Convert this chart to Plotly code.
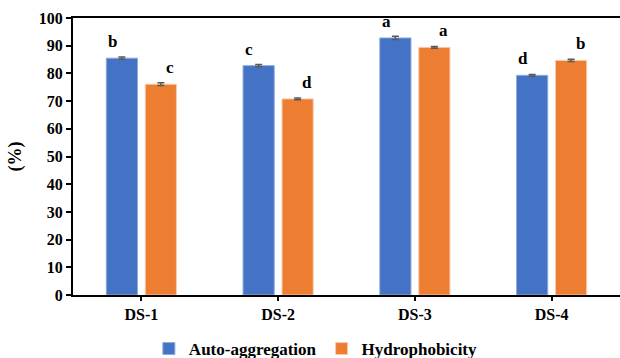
import plotly.graph_objects as go

categories = ["DS-1", "DS-2", "DS-3", "DS-4"]
auto_aggregation = [85.5, 82.8, 92.8, 79.3]
auto_err = [0.4, 0.4, 0.6, 0.3]
auto_letters = ["b", "c", "a", "d"]
hydrophobicity = [76.1, 70.8, 89.4, 84.7]
hydro_err = [0.5, 0.3, 0.3, 0.4]
hydro_letters = ["c", "d", "a", "b"]
y_ticks = [0, 10, 20, 30, 40, 50, 60, 70, 80, 90, 100]

BLUE = "#4472C4"
ORANGE = "#ED7D31"
FONT = "Liberation Serif"


def bold(s):
    return "<b>%s</b>" % s


fig = go.Figure()
fig.add_trace(go.Bar(
    name=bold("Auto-aggregation"), x=categories, y=auto_aggregation,
    marker=dict(color=BLUE, line=dict(color="#8FAADC", width=1)),
    error_y=dict(type="data", array=auto_err, color="#595959", thickness=1.5, width=3.5),
))
fig.add_trace(go.Bar(
    name=bold("Hydrophobicity"), x=categories, y=hydrophobicity,
    marker=dict(color=ORANGE, line=dict(color="#F8CBAD", width=1)),
    error_y=dict(type="data", array=hydro_err, color="#595959", thickness=1.5, width=3.5),
))

# significance letters above each bar
annotations = []
for i, cat in enumerate(categories):
    for offset, vals, letters in (
        (-0.21, auto_aggregation, auto_letters),
        (0.21, hydrophobicity, hydro_letters),
    ):
        annotations.append(dict(
            x=i + offset, y=vals[i], xref="x", yref="y",
            text=bold(letters[i]), showarrow=False, yanchor="bottom", yshift=5,
            font=dict(family=FONT, size=17, color="black"),
        ))

fig.update_layout(
    width=620, height=358,
    margin=dict(l=73, r=0, t=18, b=63, autoexpand=False),
    paper_bgcolor="white", plot_bgcolor="white",
    barmode="group", bargap=0.43, bargroupgap=0.2,
    font=dict(family=FONT, size=16, color="black"),
    showlegend=True,
    legend=dict(orientation="h", x=0.444, xanchor="center", y=-0.13, yanchor="top",
                font=dict(family=FONT, size=17, color="black"),
                traceorder="normal"),
    annotations=annotations,
    xaxis=dict(
        tickvals=categories, ticktext=[bold(c) for c in categories],
        showline=True, linecolor="black", linewidth=2, mirror=True,
        ticks="outside", ticklen=4, tickwidth=1.5, tickcolor="black",
        ticklabelstandoff=0, showgrid=False, automargin=False,
        tickfont=dict(family=FONT, size=16, color="black"),
    ),
    yaxis=dict(
        range=[0, 100], tickvals=y_ticks, ticktext=[bold(v) for v in y_ticks],
        showline=True, linecolor="black", linewidth=2, mirror=False,
        ticks="outside", ticklen=5, tickwidth=1.5, tickcolor="black",
        showgrid=False, zeroline=False, automargin=False,
        tickfont=dict(family=FONT, size=16, color="black"),
        title=dict(text=bold("(%)"), standoff=12,
                   font=dict(family=FONT, size=18, color="black")),
    ),
)

fig.write_html("out.html")
